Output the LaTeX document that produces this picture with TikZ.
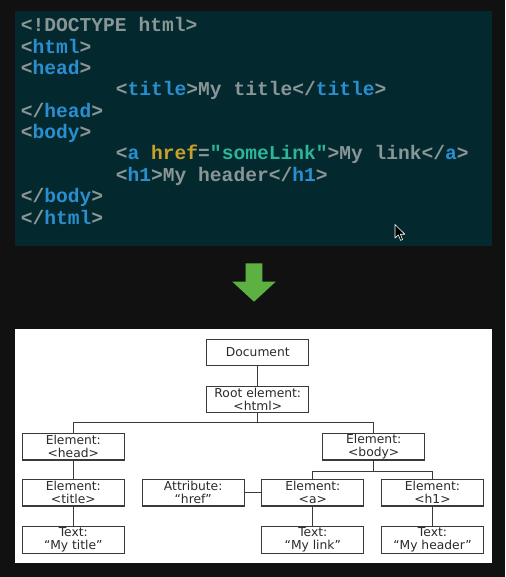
\documentclass[tikz,border=0pt]{standalone}
\usepackage{fontspec}
\setmainfont{DejaVu Sans}
\newfontfamily\codefont{Liberation Mono}
\begin{document}
\begin{tikzpicture}[x=1pt,y=-1pt,
  codeline/.style={anchor=base west,inner sep=0pt,text=codegray,font=\codefont\bfseries\fontsize{19.6}{21}\selectfont},
  tbox/.style={draw=boxline,line width=1.1pt,fill=white,minimum width=102pt,minimum height=26.5pt,inner sep=0pt,align=center,text=diagtext,font=\fontsize{12.3}{13}\selectfont},
  link/.style={draw=boxline,line width=1.1pt}]
\definecolor{bgdark}{HTML}{111111}
\definecolor{panel}{HTML}{03292F}
\definecolor{codegray}{HTML}{8A9696}
\definecolor{tagblue}{HTML}{2A8ECF}
\definecolor{attryel}{HTML}{C9A12A}
\definecolor{strteal}{HTML}{2DB59B}
\definecolor{arrowgreen}{HTML}{5DB143}
\definecolor{boxline}{HTML}{3A3A3A}
\definecolor{diagtext}{HTML}{2A2A2A}
\useasboundingbox (0,0) rectangle (505,577);
\fill[bgdark] (0,0) rectangle (505,577);
% code panel
\fill[panel] (15,11) rectangle (492,246);
\newcommand{\tg}[1]{\textcolor{tagblue}{#1}}
\node[codeline] (l1) at (20.7,32) {<!DOCTYPE html>};
\node[codeline] (l2) at (20.7,53.3) {<\tg{html}>};
\node[codeline] (l3) at (20.7,74.6) {<\tg{head}>};
\node[codeline] (l4) at (115.7,96) {<\tg{title}>My title</\tg{title}>};
\node[codeline] (l5) at (20.7,117.3) {</\tg{head}>};
\node[codeline] (l6) at (20.7,138.6) {<\tg{body}>};
\node[codeline] (l7) at (115.7,160) {<\tg{a} \textcolor{attryel}{href}=\textcolor{strteal}{"someLink"}>My link</\tg{a}>};
\node[codeline] (l8) at (115.7,181.3) {<\tg{h1}>My header</\tg{h1}>};
\node[codeline] (l9) at (20.7,202.6) {</\tg{body}>};
\node[codeline] (l10) at (20.7,224) {</\tg{html}>};
% cursor
\fill[black,draw=white,line width=0.6pt,line join=round] (395,224.5) -- (395,238) -- (398.3,235) -- (400.6,240.4) -- (402.6,239.5) -- (400.4,234.2) -- (404.8,234.2) -- cycle;
% green arrow
\fill[arrowgreen] (245.7,263.3) -- (262.3,263.3) -- (262.3,281.7) -- (275.7,281.7) -- (254,301.7) -- (232.3,281.7) -- (245.7,281.7) -- cycle;
% white panel
\fill[white] (15,329.3) rectangle (492,563.3);
% tree
\node[tbox] (doc) at (257.8,352.5) {Document};
\node[tbox] (root) at (257.8,399.3) {Root element:\\<html>};
\node[tbox] (head) at (73.3,446.7) {Element:\\<head>};
\node[tbox] (body) at (373.7,446.7) {Element:\\<body>};
\node[tbox] (title) at (73.3,492.7) {Element:\\<title>};
\node[tbox] (attr) at (193.2,492.7) {Attribute:\\“href”};
\node[tbox] (aa) at (312.8,492.7) {Element:\\<a>};
\node[tbox] (h1) at (432.5,492.7) {Element:\\<h1>};
\node[tbox] (ttitle) at (73.3,540) {Text:\\“My title”};
\node[tbox] (tlink) at (312.8,540) {Text:\\“My link”};
\node[tbox] (theader) at (432.5,540) {Text:\\“My header”};
\draw[link] (doc) -- (root);
\draw[link] (root.south) -- ++(0,9.6) -| (head.north);
\draw[link] (root.south) -- ++(0,9.6) -| (body.north);
\draw[link] (body.south) -- ++(0,11.3) -| (aa.north);
\draw[link] (body.south) -- ++(0,11.3) -| (h1.north);
\draw[link] (head) -- (title);
\draw[link] (title) -- (ttitle);
\draw[link] (attr) -- (aa);
\draw[link] (aa) -- (tlink);
\draw[link] (h1) -- (theader);
\end{tikzpicture}
\end{document}
